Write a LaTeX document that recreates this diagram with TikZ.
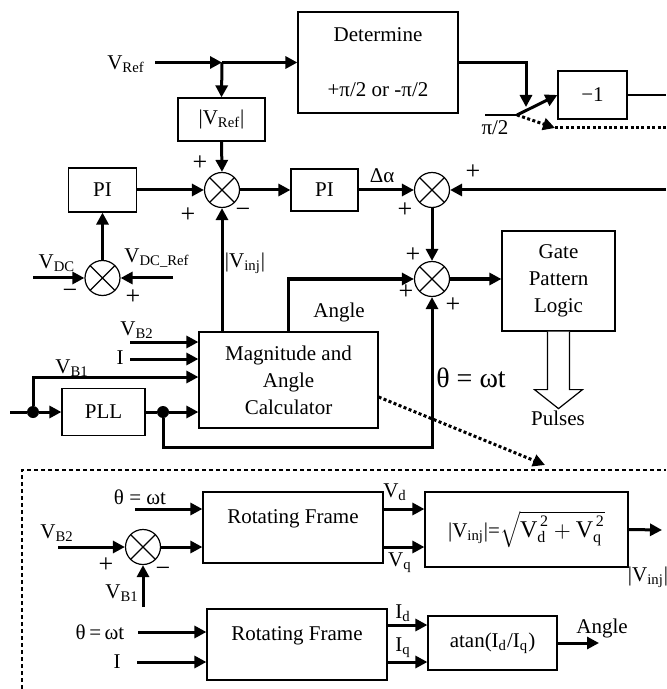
\documentclass[tikz,border=0pt]{standalone}
\usepackage{fontspec}
\setmainfont{Liberation Serif}
\usepackage{tikz}
\usetikzlibrary{arrows.meta}
\newcommand{\sbs}[1]{\textsubscript{#1}}

\begin{document}
\begin{tikzpicture}[x=0.5pt,y=-0.5pt,
  every node/.style={font=\fontsize{10.5}{12.5}\selectfont},
  blk/.style={draw,line width=0.6pt,inner sep=0pt,align=center},
  sumnode/.style={draw,line width=0.6pt,circle,minimum size=17.5pt,inner sep=0pt,
    path picture={\draw[line width=0.6pt] (path picture bounding box.north west) -- (path picture bounding box.south east)
      (path picture bounding box.north east) -- (path picture bounding box.south west);}},
  sig/.style={line width=1.5pt,-{Triangle[length=6pt,width=6pt]}},
  wire/.style={line width=1.5pt},
  dotsig/.style={line width=1.5pt,dash pattern=on 1.5pt off 1.2pt},
  jdot/.style={circle,fill,inner sep=0pt,minimum size=6pt},
  sgn/.style={font=\fontsize{13}{13}\selectfont}]
\useasboundingbox (0,0) rectangle (666,689);
\node[blk,minimum width=80pt,minimum height=50.5pt] (det) at (378,62.5) {Determine\\[15pt]+π/2 or -π/2};
\node[blk,minimum width=43.5pt,minimum height=21.5pt] (vabs) at (221.5,119.5) {|V\sbs{Ref}|};
\node[blk,minimum width=34.5pt,minimum height=24pt] (neg) at (592.5,95) {−1};
\node[blk,minimum width=34pt,minimum height=22pt] (pidc) at (102.5,190) {PI};
\node[blk,minimum width=33.5pt,minimum height=21pt] (piang) at (324.5,190) {PI};
\node[sumnode] (sref) at (222,190) {};
\node[sumnode] (salpha) at (432,190) {};
\node[sumnode] (stheta) at (432,279) {};
\node[sumnode] (sdc) at (102.5,278) {};
\node[blk,minimum width=56.5pt,minimum height=50pt] (gate) at (558.5,281) {Gate\\[1pt]Pattern\\[1pt]Logic};
\node[blk,minimum width=89.5pt,minimum height=48pt] (calc) at (288.5,380) {Magnitude and\\[1pt]Angle\\[1pt]Calculator};
\node[blk,minimum width=41.5pt,minimum height=23.5pt] (pll) at (103.5,412) {PLL};
\node[blk,minimum width=90pt,minimum height=35.5pt] (rfv) at (293,527.5) {Rotating Frame\\[-2pt]\mbox{}};
\node[blk,minimum width=90pt,minimum height=35.5pt] (rfi) at (297,644.5) {Rotating Frame\\[-2pt]\mbox{}};
\node[blk,minimum width=101.5pt,minimum height=37.5pt] (mag) at (526.5,529.5) {|V\sbs{inj}|=$\sqrt{\mbox{\large V}_{\mbox{\footnotesize d}}^{\,\mbox{\footnotesize 2}} + \mbox{\large V}_{\mbox{\footnotesize q}}^{\,\mbox{\footnotesize 2}}}$};
\node[blk,minimum width=64.5pt,minimum height=27pt] (atan) at (492.5,643) {atan(I\sbs{d}/I\sbs{q})};
\node[sumnode] (sv) at (143,547) {};

\coordinate (vrin) at (155,62.5);
\coordinate (jref) at (222,62.5);
\draw[sig] (vrin) -- (jref);
\draw[sig] (jref) -- (det.west);
\draw[sig] (jref) -- (vabs.north);
\node (lvref) at (126,64) {V\sbs{Ref}};
\draw[sig] (vabs.south) -- (sref.north);
\node[sgn] (pref) at (200,163) {+};
\draw[sig] (pidc.east) -- (sref.west);
\node[sgn] (pdc) at (188,215) {+};
\node[sgn] (minv) at (243,213) {−};
\draw[sig] (sref.east) -- (piang.west);
\draw[sig] (piang.east) -- (salpha.west);
\node (ldalpha) at (382,176) {Δα};
\coordinate (fbin) at (666,190);
\draw[sig] (fbin) -- (salpha.east);
\node[sgn] (pfb) at (473,172) {+};
\node[sgn] (palpha) at (405,210) {+};
\draw[sig] (salpha.south) -- (stheta.north);
\node[sgn] (ptop) at (413,255) {+};
\node[sgn] (pang) at (406,292) {+};
\node[sgn] (ptheta) at (453,305) {+};
\draw[sig] (calc.north) |- (stheta.west);
\node (lang) at (339,312) {Angle};
\draw[sig] (sref |- calc.north) -- (sref.south);
\node (lvinj) at (245,263) {|V\sbs{inj}|};
\draw[sig] (stheta.east) -- (stheta -| gate.west);
\draw[line width=0.6pt,fill=white] ([xshift=-5.5pt]gate.south) -- ++(0,58) -- ++(-13,0) -- ++(24,19) -- ++(24,-19) -- ++(-13,0) -- ++(0,-58);
\node (lpulses) at (558,418) {Pulses};

\coordinate (vdcin) at (33,278);
\coordinate (vdcrefin) at (173,278);
\draw[sig] (vdcin) -- (sdc.west);
\draw[sig] (vdcrefin) -- (sdc.east);
\draw[sig] (sdc.north) -- (pidc.south);
\node (lvdc) at (57,263) {V\sbs{DC}};
\node (lvdcref) at (157,258) {V\sbs{DC\_Ref}};
\node[sgn] (mdc) at (70,294) {−};
\node[sgn] (pdcref) at (133,297) {+};

\coordinate (vbtwo) at (130,342);
\coordinate (iin) at (130,359);
\coordinate (vbonelvl) at (0,377);
\draw[sig] (vbtwo) -- (vbtwo -| calc.west);
\draw[sig] (iin) -- (iin -| calc.west);
\node (lvbtwo) at (137,330) {V\sbs{B2}};
\node (li) at (120,358) {I};
\node (lvbone) at (72,368) {V\sbs{B1}};
\node[jdot] (jin) at (33,412) {};
\coordinate (gridin) at (10,412);
\draw[wire] (gridin) -- (jin);
\draw[sig] (jin) -- (pll.west);
\draw[sig] (jin) |- (calc.west |- vbonelvl);
\node[jdot] (jpll) at (163,412) {};
\draw[wire] (pll.east) -- (jpll);
\draw[sig] (jpll) -- (jpll -| calc.west);
\coordinate (thetalvl) at (0,447);
\draw[sig] (jpll) |- (stheta |- thetalvl) -- (stheta.south);
\node[font=\fontsize{14}{16}\selectfont] (ltheta) at (471,378) {θ = ωt};

\coordinate (swpiv) at (517,115);
\coordinate (swin) at (485,115);
\coordinate (swtop) at (526,107);
\draw[line width=0.6pt] (swin) -- (swpiv);
\draw[sig] (det.east) -| (swtop);
\draw[sig] (swpiv) -- (neg.west);
\coordinate (swdot) at (555,128);
\coordinate (pihalfout) at (666,128);
\draw[dotsig,-{Triangle[length=6pt,width=6pt]}] (swpiv) -- (swdot);
\draw[dotsig] (swdot) -- (pihalfout);
\node (lpihalf) at (495,128) {π/2};
\coordinate (negout) at (666,95);
\draw[line width=0.6pt] (neg.east) -- (negout);

\coordinate (zoomtip) at (545,465);
\draw[dotsig,-{Triangle[length=6pt,width=6pt]}] ([yshift=-8.5pt]calc.east) -- (zoomtip);
\draw[line width=0.6pt,dash pattern=on 2pt off 1.5pt] (22,689) -- (22,470) -- (666,470);

\coordinate (thv) at (135,509);
\coordinate (vbtwob) at (58,547);
\coordinate (vboneb) at (143,607);
\draw[sig] (thv) -- (thv -| rfv.west);
\draw[sig] (vbtwob) -- (sv.west);
\draw[sig] (vboneb) -- (sv.south);
\draw[sig] (sv.east) -- (sv -| rfv.west);
\node (lthv) at (140,497) {θ = ωt};
\node (lvbtwob) at (57,533) {V\sbs{B2}};
\node (lvboneb) at (122,593) {V\sbs{B1}};
\node[sgn] (psv) at (106,565) {+};
\node[sgn] (msv) at (163,572) {−};
\draw[sig] (rfv.east |- thv) -- (mag.west |- thv);
\draw[sig] (rfv.east |- sv) -- (mag.west |- sv);
\node (lvd) at (395,492) {V\sbs{d}};
\node (lvq) at (400,563) {V\sbs{q}};
\coordinate (vinjout) at (662,530);
\draw[sig] (mag.east) -- (vinjout);
\node (lvinjout) at (648,577) {|V\sbs{inj}|};

\coordinate (thi) at (138,632);
\coordinate (ii) at (137,662);
\coordinate (idlvl) at (0,625);
\draw[sig] (thi) -- (thi -| rfi.west);
\draw[sig] (ii) -- (ii -| rfi.west);
\node (lthi) at (100,632) {θ\,=\,ωt};
\node (lii) at (117,662) {I};
\draw[sig] (rfi.east |- idlvl) -- (atan.west |- idlvl);
\draw[sig] (rfi.east |- ii) -- (atan.west |- ii);
\node (lid) at (403,613) {I\sbs{d}};
\node (liq) at (403,648) {I\sbs{q}};
\coordinate (angout) at (599,643);
\draw[sig] (atan.east) -- (angout);
\node (langout) at (602,628) {Angle};
\end{tikzpicture}
\end{document}
